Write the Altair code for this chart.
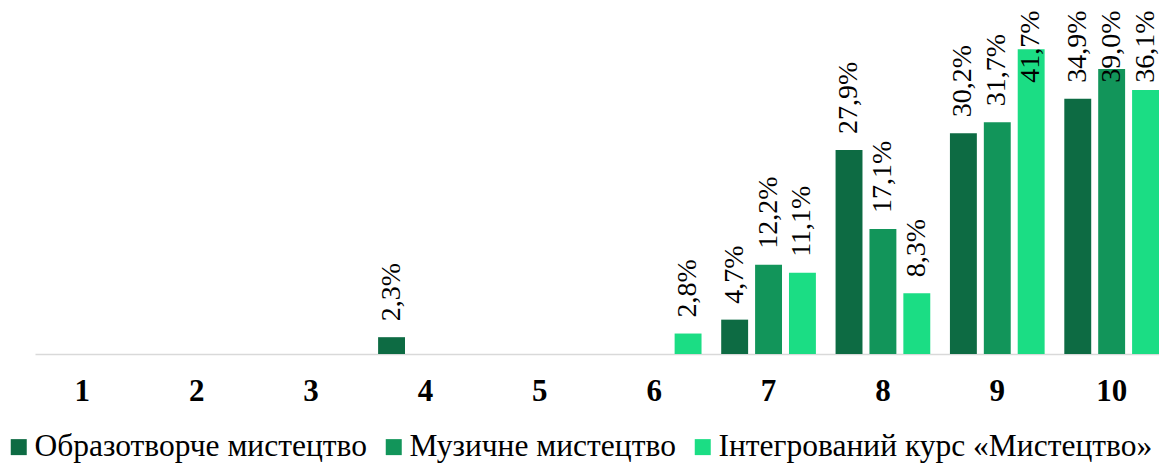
import altair as alt
import pandas as pd

categories = ["1", "2", "3", "4", "5", "6", "7", "8", "9", "10"]
series = ["Образотворче мистецтво", "Музичне мистецтво", "Інтегрований курс «Мистецтво»"]
colors = ["#0D6B43", "#12955A", "#1BDD84"]

obrazotvorche = [None, None, None, 2.3, None, None, 4.7, 27.9, 30.2, 34.9]
muzychne = [None, None, None, None, None, None, 12.2, 17.1, 31.7, 39.0]
intehrovanyi = [None, None, None, None, None, 2.8, 11.1, 8.3, 41.7, 36.1]

rows = []
for name, vals in zip(series, [obrazotvorche, muzychne, intehrovanyi]):
    for c, v in zip(categories, vals):
        if v is not None:
            rows.append({"cat": c, "series": name, "value": v})
df = pd.DataFrame(rows)

SERIF = "Liberation Serif, Times New Roman, DejaVu Serif, serif"

x_enc = alt.X("cat:N", sort=categories,
              scale=alt.Scale(domain=categories,
                              paddingInner=0.172, paddingOuter=0),
              axis=alt.Axis(title=None, labelAngle=0, ticks=False,
                            labelFont=SERIF, labelFontSize=31,
                            labelFontWeight="bold", labelColor="#000000",
                            labelPadding=22, domainColor="#D9D9D9",
                            domainWidth=1.5))
xoff = alt.XOffset("series:N", sort=series,
                   scale=alt.Scale(domain=series, paddingInner=0.206, paddingOuter=0))
y_scale = alt.Scale(domain=[0, 47.33], nice=False, zero=True)

base = alt.Chart(df)

bars = base.mark_bar().encode(
    x=x_enc,
    xOffset=xoff,
    y=alt.Y("value:Q", scale=y_scale, axis=None),
    color=alt.Color("series:N", sort=series,
                    scale=alt.Scale(domain=series, range=colors),
                    legend=alt.Legend(title=None, orient="none", direction="horizontal",
                                      legendX=-32, legendY=423,
                                      symbolType="square", symbolSize=256,
                                      symbolStrokeWidth=0, symbolOpacity=1,
                                      labelFont=SERIF, labelFontSize=31.5,
                                      labelColor="#000000", labelOffset=0,
                                      columnPadding=11, padding=0,
                                      labelLimit=0)),
)

labels = base.transform_calculate(
    ypos="min(datum.value, 34.9)",
    label="replace(format(datum.value, '.1f'), '.', ',') + '%'",
).mark_text(angle=270, align="left", baseline="middle", dx=16,
            font=SERIF, fontSize=28, color="#000000").encode(
    x=x_enc,
    xOffset=xoff,
    y=alt.Y("ypos:Q", scale=y_scale, axis=None),
    text="label:N",
)

chart = alt.layer(bars, labels).properties(
    width=1124, height=346,
    autosize=alt.AutoSizeParams(type="none"),
    padding={"left": 27, "top": 0, "right": 0, "bottom": 112},
).configure_view(stroke=None)

chart.save("out.html", embed_options={"renderer": "svg", "actions": False})
